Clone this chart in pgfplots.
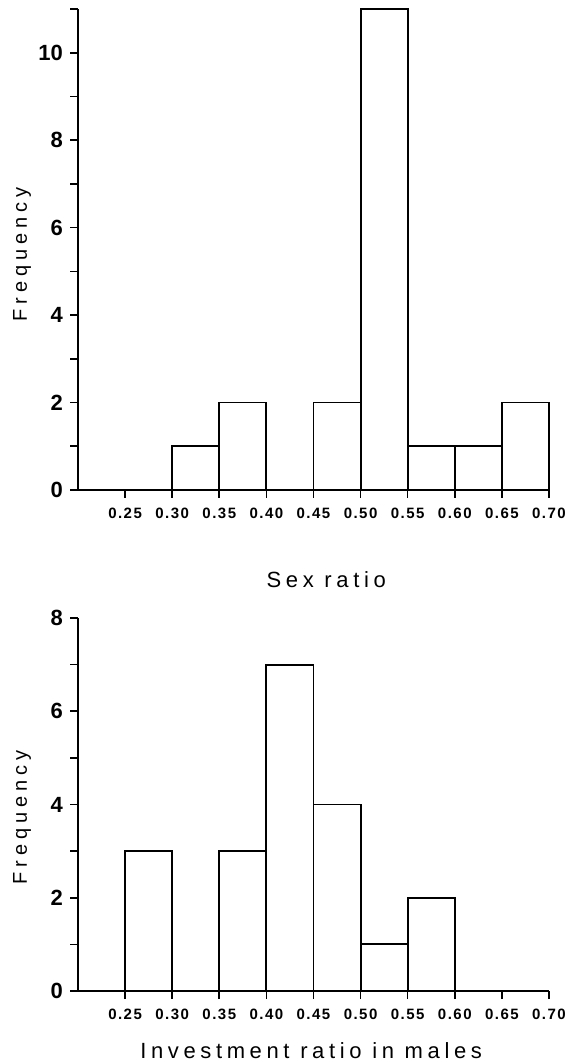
\documentclass[border=0pt]{standalone}
\usepackage{fontspec}
\setmainfont{Liberation Sans}
\newfontfamily\spacedfont[LetterSpace=21]{Liberation Sans}
\newfontfamily\freqfont[LetterSpace=25]{Liberation Sans}
\newfontfamily\tickfont[LetterSpace=10]{Liberation Sans}
\usepackage{pgfplots}
\pgfplotsset{compat=1.18}

% bin left edges and counts; last row closes the final interval
\pgfplotstableread{
x    n
0.20 0
0.25 0
0.30 1
0.35 2
0.40 0
0.45 2
0.50 11
0.55 1
0.60 1
0.65 2
0.70 2
}\sexratio

\pgfplotstableread{
x    n
0.20 0
0.25 3
0.30 0
0.35 3
0.40 7
0.45 4
0.50 1
0.55 2
0.60 0
0.65 0
0.70 0
}\investment

\pgfplotsset{
  histo/.style={
    scale only axis,
    width=471pt,
    xmin=0.2, xmax=0.7,
    ymin=0,
    axis x line*=bottom,
    axis y line*=left,
    axis line style={line width=1.9pt},
    every tick/.style={line width=1.6pt, black},
    tick align=outside,
    major tick length=8pt,
    minor tick length=8pt,
    xtick={0.25,0.30,...,0.70},
    xticklabels={0.25,0.30,0.35,0.40,0.45,0.50,0.55,0.60,0.65,0.70},
    xticklabel style={font=\tickfont\bfseries\fontsize{15}{15}\selectfont, anchor=north, inner sep=0pt, yshift=-10pt},
    yticklabel style={font=\bfseries\fontsize{22}{22}\selectfont, anchor=east, inner sep=0pt, xshift=-7pt},
    /pgf/number format/assume math mode=true,
    clip=false,
  }
}

\begin{document}
\begin{tikzpicture}
\useasboundingbox (-78pt,-71pt) rectangle (494pt,991pt);

\begin{axis}[histo,
  at={(0pt,501pt)}, anchor=south west,
  height=481pt,
  ymax=11,
  ytick={0,2,...,10},
  minor ytick={1,3,...,11},
  xlabel={\spacedfont\fontsize{22}{22}\selectfont Sex ratio},
  ylabel={\freqfont\fontsize{20}{20}\selectfont Frequency},
  every axis x label/.style={at={(axis description cs:0.527,0)}, anchor=base, yshift=-98pt},
  every axis y label/.style={at={(axis description cs:0,0.49)}, xshift=-56pt, rotate=90, anchor=center},
]
\addplot[ybar interval, fill=white, draw=black, line width=1.9pt] table[x=x, y=n] {\sexratio};
\end{axis}

\begin{axis}[histo,
  at={(0pt,0pt)}, anchor=south west,
  height=373pt,
  ymax=8,
  ytick={0,2,...,8},
  minor ytick={1,3,5,7},
  xlabel={\spacedfont\fontsize{22}{22}\selectfont Investment ratio in males},
  ylabel={\freqfont\fontsize{20}{20}\selectfont Frequency},
  every axis x label/.style={at={(axis description cs:0.495,0)}, anchor=base, yshift=-67pt},
  every axis y label/.style={at={(axis description cs:0,0.465)}, xshift=-56pt, rotate=90, anchor=center},
]
\addplot[ybar interval, fill=white, draw=black, line width=1.9pt] table[x=x, y=n] {\investment};
\end{axis}
\end{tikzpicture}
\end{document}
